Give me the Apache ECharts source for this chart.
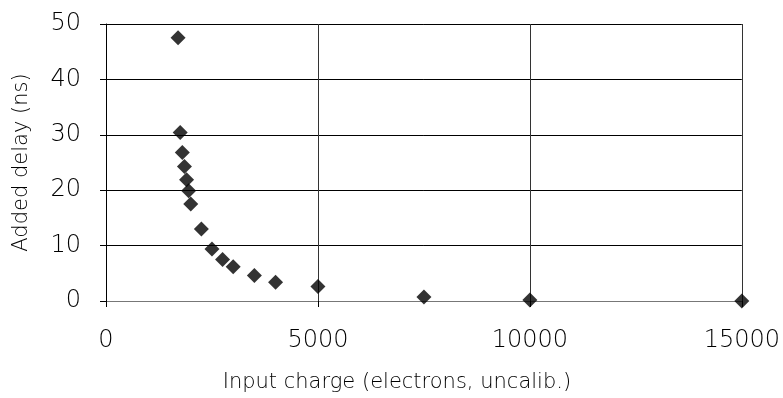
<!DOCTYPE html>
<html><head><meta charset="utf-8">
<script src="https://cdn.jsdelivr.net/npm/echarts@6/dist/echarts.min.js"></script>
<style>html,body{margin:0;padding:0;background:#fff}#c{width:783px;height:398px}</style>
</head><body><div id="c"></div>
<script>
var charge = [1700, 1750, 1800, 1850, 1900, 1950, 2000, 2250, 2500, 2750, 3000, 3500, 4000, 5000, 7500, 10000, 15000];
var delay  = [47.5, 30.4, 26.8, 24.3, 21.9, 19.9, 17.5, 13.0, 9.4, 7.5, 6.2, 4.6, 3.4, 2.6, 0.7, 0.2, 0.0];
var xTitle = 'Input charge (electrons, uncalib.)';
var yTitle = 'Added delay (ns)';

var FONT = '"DejaVu Sans", sans-serif';
var chart = echarts.init(document.getElementById('c'), null, {renderer: 'canvas'});
chart.setOption({
  animation: false,
  backgroundColor: '#fff',
  grid: {left: 106, right: 40, top: 24, bottom: 93.5, containLabel: false},
  xAxis: {
    type: 'value', min: 0, max: 15000, interval: 5000,
    name: xTitle, nameLocation: 'middle', nameGap: 71,
    nameTextStyle: {fontFamily: FONT, fontSize: 21, fontWeight: 200, color: '#000', padding: [0, 54, 0, 0]},
    axisLine: {show: true, onZero: false, lineStyle: {color: '#777', width: 1}},
    axisTick: {show: true, inside: false, length: 6, lineStyle: {color: '#000'}},
    axisLabel: {fontFamily: FONT, fontSize: 24, fontWeight: 200, color: '#000', margin: 28,
      formatter: function (v) { return String(v); }},
    splitLine: {show: true, lineStyle: {color: '#333', width: 1}}
  },
  yAxis: {
    type: 'value', min: 0, max: 50, interval: 10,
    name: yTitle, nameLocation: 'middle', nameGap: 74, nameRotate: 90,
    nameTextStyle: {fontFamily: FONT, fontSize: 21, fontWeight: 200, color: '#000'},
    axisLine: {show: true, lineStyle: {color: '#000', width: 1}},
    axisTick: {show: true, length: 6, lineStyle: {color: '#000'}},
    axisLabel: {fontFamily: FONT, fontSize: 24, fontWeight: 200, color: '#000', margin: 25,
      formatter: function (v) { return String(v); }},
    splitLine: {show: true, lineStyle: {color: '#000', width: 1}}
  },
  series: [{
    type: 'scatter',
    data: charge.map(function (c, i) { return [c, delay[i]]; }),
    symbol: 'diamond',
    symbolSize: [15, 15],
    itemStyle: {color: '#000'}
  }]
});
</script></body></html>
